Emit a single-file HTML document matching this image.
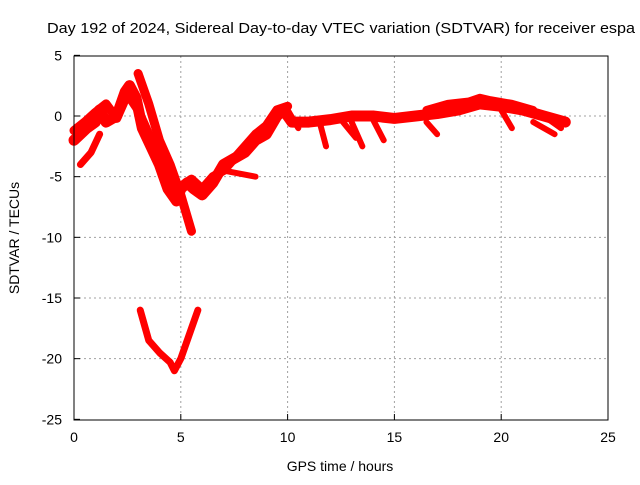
<!DOCTYPE html>
<html><head><meta charset="utf-8"><style>
body{margin:0;background:#fff;}
svg text{font-family:"Liberation Sans",sans-serif;font-size:14px;fill:#000;}
</style></head><body>
<svg id="chart" width="640" height="480">
<rect width="640" height="480" fill="#fff"/>
<text x="47" y="33" textLength="588" lengthAdjust="spacingAndGlyphs" style="font-size:15px">Day 192 of 2024, Sidereal Day-to-day VTEC variation (SDTVAR) for receiver espa</text>
<g id="grid"></g><g id="marks"></g><g id="axes"></g>
<text x="340" y="471" text-anchor="middle">GPS time / hours</text>
<text transform="translate(19,238) rotate(-90)" text-anchor="middle">SDTVAR / TECUs</text>
</svg>
<script>
const xTicks=[0,5,10,15,20,25];
const yTicks=[5,0,-5,-10,-15,-20,-25];
const mainHours=[0,0.3,0.6,1,1.2,1.5,2,2.4,2.6,2.9,3.2,3.6,4,4.4,4.8,5,5.3,5.6,6,6.5,7,7.5,8,8.5,9,9.5,9.8,10.2,11,12,13,14,15,16,17,18,19,20,21,22,23];
const mainVals=[-2,-1.5,-1,-0.5,0.5,-0.5,0,2,2.5,1.5,-1,-2.5,-4,-6,-7,-6,-5.5,-6,-6.5,-5.5,-4,-3.5,-3,-2,-1.5,0,0.5,-0.5,-0.5,-0.3,0,0,-0.2,0,0.2,0.5,1,0.8,0.5,0,-0.5];
const main2Hours=[0,0.5,1,1.5,2,2.5,3,3.5,4,4.5,5,5.5,6,6.5,7,7.5,8,8.5,9,9.5,10];
const main2Vals=[-1.2,-0.5,0.3,1,-0.2,1.8,0.5,-1.5,-3.5,-5.5,-5.8,-5.2,-6,-5,-4.5,-3.5,-2.5,-1.5,-0.8,0.5,0.8];
const strandHours=[3,3.5,4,4.5,5,5.5];
const strandVals=[3.5,1,-2,-4,-6.5,-9.5];
const lowLeftHours=[0.3,0.8,1.2];
const lowLeftVals=[-4,-3,-1.5];
const branch8Hours=[7,8.5];
const branch8Vals=[-4.5,-5];
const bottomHours=[3.1,3.5,4,4.5,4.7,5,5.5,5.8];
const bottomVals=[-16,-18.5,-19.5,-20.3,-21,-20,-17.5,-16];
const upperHours=[16.5,17.5,18.5,19,19.5,20.5,21.5];
const upperVals=[0.5,1,1.2,1.5,1.3,1,0.5];
const branchSets=[
 [[10,0.5],[10.5,-1]],[[11.5,-0.5],[11.8,-2.5]],[[13,-0.5],[13.5,-2.5]],
 [[14,-0.3],[14.5,-2]],[[16.5,-0.5],[17,-1.5]],[[20,0.5],[20.5,-1]],
 [[21.5,-0.5],[22.5,-1.5]],[[12.5,-0.3],[13.2,-1.8]],[[22,0],[22.8,-1]]
];
const X=v=>74+v*(534/25), Y=v=>116-v*(364/30);
const NS="http://www.w3.org/2000/svg";
const g=document.getElementById('grid'),m=document.getElementById('marks'),a=document.getElementById('axes');
function el(t,attrs,p){const e=document.createElementNS(NS,t);for(const k in attrs)e.setAttribute(k,attrs[k]);p.appendChild(e);return e;}
xTicks.forEach(t=>{
 if(t>0&&t<25){const l=el('line',{x1:X(t),x2:X(t),y1:56,y2:420,stroke:'#a0a0a0','stroke-dasharray':'2,3'},g);
 
 }
 const tx=el('text',{x:X(t),y:442,'text-anchor':'middle'},a);tx.textContent=t;
 
 
 el('line',{x1:X(t),x2:X(t),y1:420,y2:414,stroke:'#000'},a);
});
yTicks.forEach(t=>{
 if(t<5&&t>-25){const l=el('line',{x1:74,x2:608,y1:Y(t),y2:Y(t),stroke:'#a0a0a0','stroke-dasharray':'2,3'},g);
 
 }
 const tx=el('text',{x:62,y:Y(t)+5,'text-anchor':'end'},a);tx.textContent=t;
 
 
 el('line',{x1:74,x2:80,y1:Y(t),y2:Y(t),stroke:'#000'},a);
});
const frame=el('rect',{x:74,y:56,width:534,height:364,fill:'none',stroke:'#000'},a);


function series(hs,vs,name,w){
 const p=el('polyline',{points:hs.map((h,i)=>X(h)+','+Y(vs[i])).join(' '),fill:'none',stroke:'#f00','stroke-width':w,'stroke-linejoin':'round','stroke-linecap':'round'},m);
 
 
}
series(mainHours,mainVals,'sdtvar-main-series',11);
series(main2Hours,main2Vals,'sdtvar-main2-series',9);
series(strandHours,strandVals,'sdtvar-strand-series',9);
series(lowLeftHours,lowLeftVals,'sdtvar-lowleft-series',7);
series(branch8Hours,branch8Vals,'sdtvar-branch8-series',6);
series(bottomHours,bottomVals,'sdtvar-bottom-series',7);
series(upperHours,upperVals,'sdtvar-upper-series',8);
branchSets.forEach(b=>series(b.map(p=>p[0]),b.map(p=>p[1]),'sdtvar-branch-series',6));
</script>
</body></html>
